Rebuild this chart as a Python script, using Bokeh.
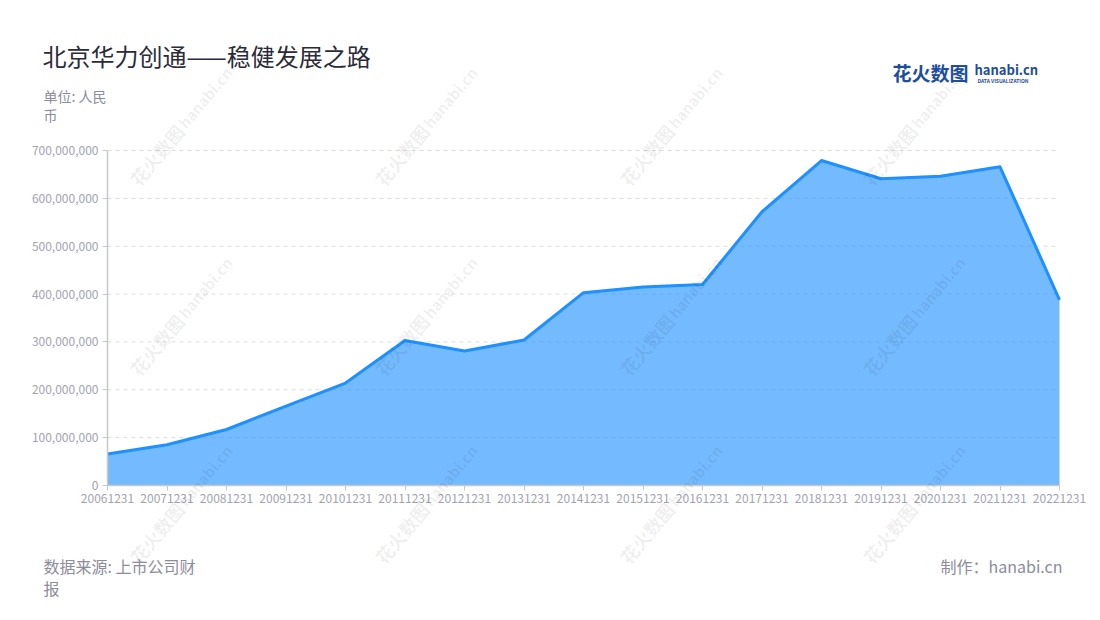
import math
from bokeh.plotting import figure
from bokeh.models import Label, FixedTicker, NumeralTickFormatter, Range1d, LinearAxis, Grid
from bokeh.embed import file_html
from bokeh.resources import INLINE

# ---- data ----
dates = ["20061231", "20071231", "20081231", "20091231", "20101231", "20111231",
         "20121231", "20131231", "20141231", "20151231", "20161231", "20171231",
         "20181231", "20191231", "20201231", "20211231", "20221231"]
values = [66e6, 85e6, 117e6, 166e6, 214e6, 303e6,
          281e6, 304e6, 403e6, 415e6, 420e6, 572e6,
          679e6, 641e6, 646e6, 666e6, 388e6]
y_ticks = [0, 100e6, 200e6, 300e6, 400e6, 500e6, 600e6, 700e6]

title_text = "北京华力创通——稳健发展之路"
unit_lines = ["单位: 人民", "币"]
source_lines = ["数据来源: 上市公司财", "报"]
credit_text = "制作：hanabi.cn"

FONT = "Noto Sans CJK SC"

xs = list(range(len(dates)))
n = len(dates) - 1
ymax = y_ticks[-1]

# layout (page pixels) of the plotting area
W, H = 1095, 615
PL, PR, PT, PB = 107, 1059, 150, 485
ux = n / (PR - PL)
uy = ymax / (PB - PT)

p = figure(width=W, height=H, output_backend="svg", toolbar_location=None,
           x_range=Range1d(-PL * ux, n + (W - PR) * ux),
           y_range=Range1d(-(H - PB) * uy, ymax + PT * uy),
           x_axis_location=None, y_axis_location=None, min_border=0)
p.outline_line_color = None
p.background_fill_color = "white"
p.border_fill_color = "white"
# drop default grids
p.center = [c for c in p.center if not isinstance(c, Grid)]
p.renderers = [r for r in p.renderers if not isinstance(r, Grid)]

# dashed horizontal grid limited to the plotting area
p.segment(x0=[0] * len(y_ticks[1:]), x1=[n] * len(y_ticks[1:]), y0=y_ticks[1:], y1=y_ticks[1:],
          line_color="#dcdcdc", line_dash="4 4", line_width=1)

# area + line
p.varea(x=xs, y1=[0] * len(xs), y2=values, fill_color="#1e90ff", fill_alpha=0.62)
p.line(x=xs, y=values, line_color="#1e90ff", line_width=3, line_join="round")

# axes at fixed locations
xaxis = LinearAxis(fixed_location=0, bounds=(0, n), ticker=FixedTicker(ticks=xs),
                   major_label_overrides={i: d for i, d in enumerate(dates)})
yaxis = LinearAxis(fixed_location=0, bounds=(0, ymax), ticker=FixedTicker(ticks=y_ticks),
                   formatter=NumeralTickFormatter(format="0,0"))
for ax in (xaxis, yaxis):
    ax.axis_line_color = "#c8c8c8"
    ax.axis_line_width = 1.5
    ax.major_tick_line_color = "#c8c8c8"
    ax.major_tick_in = 0
    ax.major_tick_out = 5
    ax.minor_tick_line_color = None
    ax.major_label_text_font = FONT
    ax.major_label_text_font_size = "12px"
    ax.major_label_text_color = "#a3a3b0"
xaxis.major_label_standoff = 3
yaxis.major_label_standoff = 4
p.add_layout(xaxis, "below")
p.add_layout(yaxis, "left")

# page px -> screen units (frame = whole canvas)
def add_label(text, px, py, size, color, align="left", style="normal", angle=0.0, alpha=1.0, baseline="top"):
    p.add_layout(Label(x=px, y=H - py, x_units="screen", y_units="screen",
                       text=text, text_font=FONT, text_font_size=size,
                       text_color=color, text_align=align, text_baseline=baseline,
                       text_font_style=style, angle=angle, text_alpha=alpha))

# watermarks
wm_cols = [133, 378, 623, 866]
wm_rows = [182, 372, 560]
for cx in wm_cols:
    for ry in wm_rows:
        add_label("花火数图", cx, ry, "18px", "#000000", angle=math.radians(50),
                  alpha=0.07, baseline="middle", style="bold")
        add_label("hanabi.cn", cx + 48, ry - 57, "15px", "#000000", angle=math.radians(50),
                  alpha=0.07, baseline="middle", style="bold")

# title and notes
add_label(title_text, 42, 37, "24px", "#2b2b3a")
add_label(unit_lines[0], 43, 85, "14px", "#8c8c9c")
add_label(unit_lines[1], 43, 104, "14px", "#8c8c9c")
add_label(source_lines[0], 43, 553, "16px", "#8c8c9c")
add_label(source_lines[1], 43, 575, "16px", "#8c8c9c")
add_label(credit_text, 1062, 553, "16px", "#8c8c9c", align="right")

# logo
add_label("花火数图", 892, 58, "19px", "#1d4e9e", style="bold")
add_label("hanabi.cn", 974, 59, "13px", "#1d4e9e", style="bold")
add_label("DATA VISUALIZATION", 977, 76, "5px", "#1d4e9e", style="bold")

open("out.html", "w").write(file_html(p, INLINE))
